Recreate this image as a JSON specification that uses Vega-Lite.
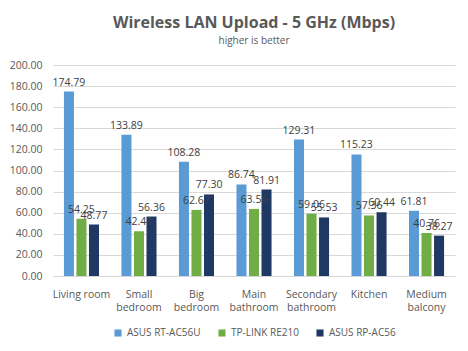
{
  "$schema": "https://vega.github.io/schema/vega-lite/v6.json",
  "width": 468,
  "height": 351,
  "autosize": {"type": "fit", "contains": "padding"},
  "padding": {"left": 9, "top": 15, "right": 13, "bottom": 13},
  "background": "white",
  "title": {
    "text": "Wireless LAN Upload - 5 GHz (Mbps)",
    "subtitle": "higher is better",
    "font": "Open Sans",
    "fontSize": 16,
    "fontWeight": "bold",
    "color": "#595959",
    "subtitleFont": "Open Sans",
    "subtitleFontSize": 10,
    "subtitleColor": "#595959",
    "subtitlePadding": 5,
    "anchor": "middle",
    "offset": 14
  },
  "data": {
    "values": [
      {"room": "Living room", "device": "ASUS RT-AC56U", "value": 174.79},
      {"room": "Living room", "device": "TP-LINK RE210", "value": 54.25},
      {"room": "Living room", "device": "ASUS RP-AC56", "value": 48.77},
      {"room": "Small bedroom", "device": "ASUS RT-AC56U", "value": 133.89},
      {"room": "Small bedroom", "device": "TP-LINK RE210", "value": 42.41},
      {"room": "Small bedroom", "device": "ASUS RP-AC56", "value": 56.36},
      {"room": "Big bedroom", "device": "ASUS RT-AC56U", "value": 108.28},
      {"room": "Big bedroom", "device": "TP-LINK RE210", "value": 62.67},
      {"room": "Big bedroom", "device": "ASUS RP-AC56", "value": 77.30},
      {"room": "Main bathroom", "device": "ASUS RT-AC56U", "value": 86.74},
      {"room": "Main bathroom", "device": "TP-LINK RE210", "value": 63.56},
      {"room": "Main bathroom", "device": "ASUS RP-AC56", "value": 81.91},
      {"room": "Secondary bathroom", "device": "ASUS RT-AC56U", "value": 129.31},
      {"room": "Secondary bathroom", "device": "TP-LINK RE210", "value": 59.06},
      {"room": "Secondary bathroom", "device": "ASUS RP-AC56", "value": 55.53},
      {"room": "Kitchen", "device": "ASUS RT-AC56U", "value": 115.23},
      {"room": "Kitchen", "device": "TP-LINK RE210", "value": 57.36},
      {"room": "Kitchen", "device": "ASUS RP-AC56", "value": 60.44},
      {"room": "Medium balcony", "device": "ASUS RT-AC56U", "value": 61.81},
      {"room": "Medium balcony", "device": "TP-LINK RE210", "value": 40.76},
      {"room": "Medium balcony", "device": "ASUS RP-AC56", "value": 38.27}
    ]
  },
  "encoding": {
    "x": {
      "field": "room",
      "type": "nominal",
      "sort": null,
      "scale": {"paddingInner": 0.39, "paddingOuter": 0.19},
      "axis": {
        "title": null,
        "labelAngle": 0,
        "labelFont": "Open Sans",
        "labelFontSize": 10.5,
        "labelColor": "#595959",
        "labelExpr": "datum.value == 'Living room' ? datum.value : split(datum.value, ' ')",
        "labelLineHeight": 13,
        "labelPadding": 13,
        "ticks": false,
        "domainColor": "#D9D9D9",
        "grid": false
      }
    },
    "xOffset": {
      "field": "device",
      "type": "nominal",
      "sort": ["ASUS RT-AC56U", "TP-LINK RE210", "ASUS RP-AC56"],
      "scale": {"paddingInner": 0.2}
    },
    "y": {
      "field": "value",
      "type": "quantitative",
      "scale": {"domain": [0, 200]},
      "axis": {
        "title": null,
        "values": [0, 20, 40, 60, 80, 100, 120, 140, 160, 180, 200],
        "format": ".2f",
        "labelOverlap": false,
        "labelFont": "Open Sans",
        "labelFontSize": 10.5,
        "labelColor": "#595959",
        "ticks": false,
        "domain": false,
        "gridColor": "#D9D9D9",
        "labelPadding": 11
      }
    },
    "color": {
      "field": "device",
      "type": "nominal",
      "sort": ["ASUS RT-AC56U", "TP-LINK RE210", "ASUS RP-AC56"],
      "scale": {
        "domain": ["ASUS RT-AC56U", "TP-LINK RE210", "ASUS RP-AC56"],
        "range": ["#5B9BD5", "#70AD47", "#203864"]
      },
      "legend": {
        "title": null,
        "orient": "bottom",
        "direction": "horizontal",
        "symbolType": "square",
        "symbolSize": 50,
        "symbolStrokeWidth": 0,
        "labelFont": "Open Sans",
        "labelFontSize": 10,
        "labelColor": "#595959",
        "columnPadding": 16,
        "offset": 15
      }
    }
  },
  "layer": [
    {"mark": {"type": "bar"}},
    {
      "mark": {"type": "text", "dy": -9, "font": "Open Sans", "fontSize": 10.5, "color": "#404040"},
      "encoding": {
        "text": {"field": "value", "type": "quantitative", "format": ".2f"},
        "color": {"value": "#404040"}
      }
    }
  ],
  "config": {
    "view": {"stroke": null},
    "legend": {"layout": {"bottom": {"anchor": "middle"}}}
  }
}
